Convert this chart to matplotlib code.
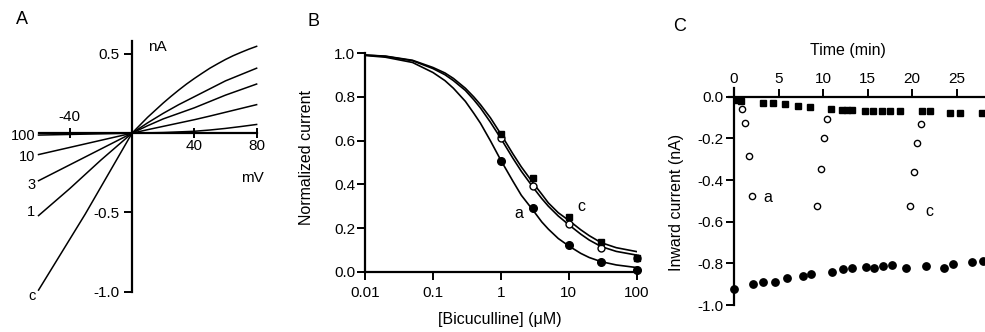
import matplotlib
matplotlib.use("Agg")
import matplotlib.pyplot as plt

plt.rcParams['font.family'] = ['Liberation Sans', 'DejaVu Sans']
plt.rcParams['font.size'] = 11

# ---- panel A: I-V curves at several bicuculline concentrations
v_mv = [-60, -40, -20, 0, 10, 20, 30, 40, 50, 60, 70, 80]
i_1 = [-0.52, -0.35, -0.17, 0, 0.065, 0.125, 0.18, 0.23, 0.28, 0.33, 0.37, 0.41]
i_3 = [-0.30, -0.20, -0.10, 0, 0.047, 0.09, 0.125, 0.16, 0.20, 0.24, 0.275, 0.31]
i_10 = [-0.135, -0.09, -0.045, 0, 0.022, 0.043, 0.064, 0.085, 0.108, 0.132, 0.156, 0.18]
i_100 = [-0.012, -0.008, -0.004, 0, 0.002, 0.004, 0.008, 0.012, 0.02, 0.03, 0.042, 0.055]
v_c = [-60, -50, -40, -30, -20, -10, 0, 5, 10, 15, 20, 25, 30, 35, 40, 45, 50, 55, 60, 65, 70, 75, 80]
i_c = [-0.99, -0.83, -0.67, -0.51, -0.34, -0.17, 0, 0.05, 0.10, 0.145, 0.19, 0.232, 0.272,
       0.31, 0.345, 0.378, 0.41, 0.438, 0.465, 0.489, 0.51, 0.53, 0.548]
curve_labels = ['100', '10', '3', '1', 'c']
curve_label_y = [-0.02, -0.15, -0.327, -0.497, -1.03]

# ---- panel B: concentration-response
conc = [1, 3, 10, 30, 100]
norm_a = [0.507, 0.293, 0.122, 0.043, 0.008]
norm_b = [0.61, 0.394, 0.218, 0.107, 0.061]
norm_c = [0.629, 0.428, 0.249, 0.135, 0.064]
fit_x = [0.01, 0.02, 0.05, 0.1, 0.15, 0.2, 0.3, 0.4, 0.5, 0.7, 1, 1.5, 2, 3, 4, 5, 7, 10, 15, 20, 30, 50, 100]
fit_a = [0.99, 0.982, 0.958, 0.912, 0.875, 0.84, 0.78, 0.725, 0.68, 0.60, 0.51, 0.415, 0.35, 0.28,
         0.228, 0.195, 0.152, 0.118, 0.084, 0.065, 0.046, 0.031, 0.019]
fit_b = [0.992, 0.986, 0.966, 0.93, 0.902, 0.875, 0.83, 0.787, 0.75, 0.685, 0.61, 0.52, 0.46, 0.385,
         0.335, 0.30, 0.255, 0.215, 0.172, 0.145, 0.115, 0.093, 0.076]
fit_c = [0.992, 0.987, 0.968, 0.935, 0.91, 0.885, 0.84, 0.8, 0.765, 0.705, 0.63, 0.54, 0.48, 0.405,
         0.355, 0.315, 0.27, 0.235, 0.192, 0.165, 0.133, 0.11, 0.092]

# ---- panel C: time course
t_sq = [0.3, 0.79, 3.22, 4.42, 5.73, 7.23, 8.54, 10.86, 12.1, 12.66, 13.22, 14.72, 15.66,
        16.6, 17.53, 18.65, 21.09, 22.02, 24.27, 25.39, 27.83]
i_sq = [-0.016, -0.019, -0.029, -0.029, -0.035, -0.045, -0.051, -0.061, -0.064, -0.064, -0.064,
        -0.069, -0.069, -0.069, -0.069, -0.069, -0.069, -0.069, -0.077, -0.077, -0.08]
t_open = [0.94, 1.24, 1.69, 1.99, 9.29, 9.74, 10.15, 10.49, 19.78, 20.22, 20.6, 20.97]
i_open = [-0.059, -0.128, -0.283, -0.477, -0.525, -0.349, -0.197, -0.109, -0.525, -0.363, -0.221, -0.131]
t_fill = [0, 2.1, 3.22, 4.61, 5.99, 7.79, 8.65, 11.05, 12.28, 13.3, 14.79, 15.73, 16.7,
          17.79, 19.29, 21.54, 23.6, 24.64, 26.78, 28.0]
i_fill = [-0.925, -0.901, -0.891, -0.888, -0.869, -0.861, -0.851, -0.843, -0.829, -0.824, -0.819,
          -0.821, -0.813, -0.808, -0.821, -0.813, -0.824, -0.805, -0.795, -0.787]

fig = plt.figure(figsize=(9.85, 3.32), dpi=100)

# ================= A
ax = fig.add_axes([0.0328, 0.0976, 0.2309, 0.7877])
for ys in [i_1, i_3, i_10, i_100]:
    ax.plot(v_mv, ys, color='black', lw=1.1)
ax.plot(v_c, i_c, color='black', lw=1.1)
ax.set_xlim(-64, 82)
ax.set_ylim(-1.05, 0.6)
ax.spines['left'].set_position(('data', 0))
ax.spines['bottom'].set_position(('data', 0))
ax.spines['right'].set_visible(False)
ax.spines['top'].set_visible(False)
ax.spines['left'].set_bounds(-1.0, 0.58)
ax.spines['bottom'].set_bounds(-60, 80)
for s in ['left', 'bottom']:
    ax.spines[s].set_linewidth(1.6)
ax.set_yticks([0.5, -0.5, -1.0])
ax.set_yticklabels(['0.5', '-0.5', '-1.0'])
ax.set_xticks([-40, 40, 80])
ax.set_xticklabels(['', '40', '80'])
ax.tick_params(axis='y', direction='out', length=6, width=1.4, pad=3)
ax.tick_params(axis='x', direction='inout', length=7, width=1.4, pad=1)
ax.text(-40, 0.1, '-40', ha='center', va='center')
ax.text(10, 0.545, 'nA', ha='left', va='center')
ax.text(77, -0.285, 'mV', ha='center', va='center')
for lab, yy in zip(curve_labels, curve_label_y):
    ax.text(-62, yy, lab, ha='right', va='center', fontsize=10.5)

# ================= B
bx = fig.add_axes([0.3706, 0.1816, 0.2758, 0.6579])
bx.set_xscale('log')
bx.plot(fit_x, fit_a, color='black', lw=1.2)
bx.plot(fit_x, fit_b, color='black', lw=1.2)
bx.plot(fit_x, fit_c, color='black', lw=1.2)
bx.plot(conc, norm_b, 'o', mfc='white', mec='black', mew=1.0, ms=5, clip_on=False)
bx.plot(conc, norm_c, 's', color='black', ms=5, clip_on=False)
bx.plot(conc, norm_a, 'o', color='black', ms=5.5, clip_on=False)
bx.set_xlim(0.01, 100)
bx.set_ylim(0, 1.0)
bx.minorticks_off()
bx.set_xticks([0.01, 0.1, 1, 10, 100])
bx.set_xticklabels(['0.01', '0.1', '1', '10', '100'])
bx.set_yticks([0, 0.2, 0.4, 0.6, 0.8, 1.0])
bx.set_yticklabels(['0.0', '0.2', '0.4', '0.6', '0.8', '1.0'])
bx.spines['right'].set_visible(False)
bx.spines['top'].set_visible(False)
for s in ['left', 'bottom']:
    bx.spines[s].set_linewidth(1.6)
bx.tick_params(direction='out', length=5.5, width=1.4)
bx.tick_params(axis='x', pad=5)
bx.tick_params(axis='y', pad=1.5)
bx.text(-0.217, 0.523, 'Normalized current', transform=bx.transAxes,
        rotation=90, ha='center', va='center', fontsize=11.5)
bx.text(0.497, -0.221, '[Bicuculline] (\u03bcM)', transform=bx.transAxes,
        ha='center', va='center', fontsize=11.5)
bx.text(1.81, 0.267, 'a', ha='center', va='center', fontsize=11.5)
bx.text(15.5, 0.298, 'c', ha='center', va='center', fontsize=11.5)

# ================= C
cx = fig.add_axes([0.7398, 0.0813, 0.2602, 0.6524])
cx.plot(t_sq, i_sq, 's', color='black', ms=4.6, clip_on=False)
cx.plot(t_open, i_open, 'o', mfc='white', mec='black', mew=1.0, ms=4.5)
cx.plot(t_fill, i_fill, 'o', color='black', ms=5.3, clip_on=False)
cx.set_xlim(-0.6, 28.2)
cx.set_ylim(-1.0, 0.04)
cx.spines['left'].set_position(('data', 0))
cx.spines['top'].set_position(('data', 0))
cx.spines['right'].set_visible(False)
cx.spines['bottom'].set_visible(False)
for s in ['left', 'top']:
    cx.spines[s].set_linewidth(1.6)
cx.xaxis.tick_top()
cx.set_xticks([0, 5, 10, 15, 20, 25])
cx.set_yticks([0, -0.2, -0.4, -0.6, -0.8, -1.0])
cx.set_yticklabels(['0.0', '-0.2', '-0.4', '-0.6', '-0.8', '-1.0'])
cx.tick_params(direction='out', length=6, width=1.4)
cx.tick_params(axis='x', pad=2)
cx.tick_params(axis='y', pad=1.5)
cx.text(0.4635, 1.177, 'Time (min)', transform=cx.transAxes, ha='center', va='center', fontsize=11.5)
cx.text(-0.203, 0.473, 'Inward current (nA)', transform=cx.transAxes,
        rotation=90, ha='center', va='center', fontsize=11.5)
cx.text(3.8, -0.486, 'a', ha='center', va='center', fontsize=11.5)
cx.text(22.0, -0.553, 'c', ha='center', va='center', fontsize=11.5)

# panel letters
fig.text(0.0223, 0.94, 'A', ha='center', va='center', fontsize=13)
fig.text(0.3178, 0.934, 'B', ha='center', va='center', fontsize=13)
fig.text(0.6904, 0.919, 'C', ha='center', va='center', fontsize=13)

fig.savefig('out.png', dpi=100)
